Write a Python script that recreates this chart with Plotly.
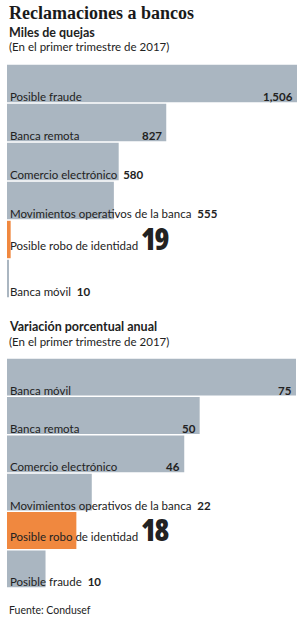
import plotly.graph_objects as go

# ---- data ----
cats_top = ["Posible fraude", "Banca remota", "Comercio electrónico",
            "Movimientos operativos de la banca", "Posible robo de identidad", "Banca móvil"]
vals_top = [1506, 827, 580, 555, 19, 10]
labels_top = ["1,506", "827", "580", "555", "19", "10"]

cats_bot = ["Banca móvil", "Banca remota", "Comercio electrónico",
            "Movimientos operativos de la banca", "Posible robo de identidad", "Posible fraude"]
vals_bot = [75, 50, 46, 22, 18, 10]
labels_bot = ["75", "50", "46", "22", "18", "10"]

highlight = "Posible robo de identidad"

W, H = 303, 620
GRAY = "#aab6c1"
ORANGE = "#f0883f"
TXT = "#222222"
FONT = "Lato, 'Open Sans', sans-serif"
BIG_STYLE = ("font-family:Open Sans;font-stretch:75%;font-variation-settings:'wdth' 75;"
             "font-weight:800;font-size:30px;letter-spacing:-1.5px")


def py(px):
    return 1 - px / H


fig = go.Figure()

panels = [
    dict(cats=cats_top, vals=vals_top, labels=labels_top, xa="x", ya="y",
         xdom=[7 / W, 297 / W], ydom=[py(298), py(64)], xmax=1506),
    dict(cats=cats_bot, vals=vals_bot, labels=labels_bot, xa="x2", ya="y2",
         xdom=[7 / W, 296 / W], ydom=[py(588), py(358)], xmax=75),
]

annotations = []
for k, p in enumerate(panels):
    n = len(p["cats"])
    colors = [ORANGE if c == highlight else GRAY for c in p["cats"]]
    fig.add_trace(go.Bar(
        x=p["vals"], y=list(range(n)), orientation="h",
        marker=dict(color=colors, line=dict(width=0)),
        xaxis=p["xa"], yaxis=p["ya"], hoverinfo="skip", showlegend=False,
    ))
    plot_w = (p["xdom"][1] - p["xdom"][0]) * W
    for i, (c, v, lab) in enumerate(zip(p["cats"], p["vals"], p["labels"])):
        bar_px = v / p["xmax"] * plot_w
        est_label = len(c) * 5.3
        est_val = len(lab) * 7 + 8
        if c == highlight:
            text = f"{c} <span style=\"{BIG_STYLE}\">{lab}</span>"
            inside = False
        elif bar_px > est_label + est_val:
            text = c
            inside = True
        else:
            text = f"{c}  <b>{lab}</b>"
            inside = False
        annotations.append(dict(
            xref=p["xa"], yref=p["ya"], x=0, y=i + 0.48, xanchor="left", yanchor="bottom",
            xshift=1, yshift=-3, text=text, showarrow=False,
            font=dict(family=FONT, size=11.5, color=TXT),
        ))
        if inside:
            annotations.append(dict(
                xref=p["xa"], yref=p["ya"], x=v, y=i + 0.48, xanchor="right", yanchor="bottom",
                xshift=-2, yshift=-3, text=f"<b>{lab}</b>", showarrow=False,
                font=dict(family=FONT, size=11.5, color=TXT),
            ))

    axis_common = dict(showgrid=False, zeroline=False, showticklabels=False, ticks="",
                       showline=False, fixedrange=True)
    xname = "xaxis" if k == 0 else "xaxis2"
    yname = "yaxis" if k == 0 else "yaxis2"
    fig.update_layout(**{
        xname: dict(domain=p["xdom"], range=[0, p["xmax"]], anchor=p["ya"], **axis_common),
        yname: dict(domain=p["ydom"], range=[n - 0.5, -0.5], anchor=p["xa"], **axis_common),
    })


def txt(text, ypx, size, bold=False, family=FONT, color=TXT):
    annotations.append(dict(
        xref="paper", yref="paper", x=7 / W, y=py(ypx), xanchor="left", yanchor="middle",
        text=f"<b>{text}</b>" if bold else text, showarrow=False,
        font=dict(family=family, size=size, color=color),
    ))


txt("Reclamaciones a bancos", 13, 18, bold=True, family="'Liberation Serif', 'DejaVu Serif', serif",
    color="#1a1a1a")
txt("Miles de quejas", 32, 12.5, bold=True)
txt("(En el primer trimestre de 2017)", 46, 11.5)
txt("Variación porcentual anual", 326, 12.5, bold=True)
txt("(En el primer trimestre de 2017)", 341, 11.5)
txt("Fuente: Condusef", 610, 10.5)

fig.update_layout(
    width=W, height=H, margin=dict(l=0, r=0, t=0, b=0),
    paper_bgcolor="white", plot_bgcolor="white",
    bargap=0.04, annotations=annotations, showlegend=False,
)

fig.write_html("out.html", config={"displayModeBar": False})
